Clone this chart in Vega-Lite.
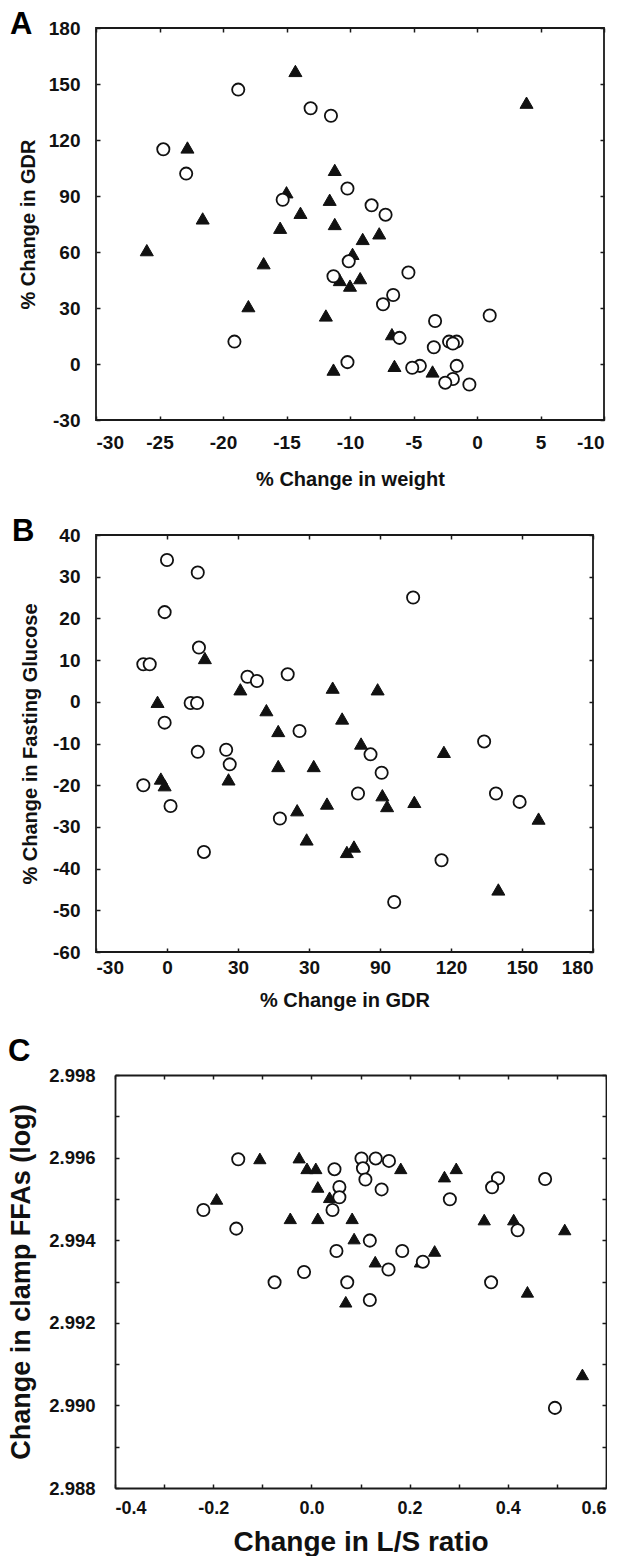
{
  "$schema": "https://vega.github.io/schema/vega-lite/v6.json",
  "background": "white",
  "padding": {"left": 7, "top": 8, "right": 0, "bottom": 0},
  "spacing": 25,
  "columns": 1,
  "align": "none",
  "config": {
    "font": "Liberation Sans",
    "view": {"stroke": "#1a1a1a", "strokeWidth": 1.8},
    "axis": {"domain": false, "grid": false, "tickColor": "#1a1a1a", "tickSize": -4, "tickWidth": 1.5, "labelFont": "Liberation Sans", "labelFontWeight": "bold", "labelColor": "#111", "titleColor": "#111", "titleFont": "Liberation Sans", "titleFontWeight": "bold"},
    "title": {"font": "Liberation Sans", "fontWeight": "bold", "color": "#000", "anchor": "start", "frame": "group"}
  },
  "datasets": {
    "a": [
      {"g":"T","x":-14.3,"y":157},{"g":"T","x":3.9,"y":140},{"g":"T","x":-22.8,"y":116},{"g":"T","x":-11.2,"y":104},{"g":"T","x":-15.0,"y":92},{"g":"T","x":-11.6,"y":88},{"g":"T","x":-21.6,"y":78},{"g":"T","x":-13.9,"y":81},{"g":"T","x":-15.5,"y":73},{"g":"T","x":-11.2,"y":75},{"g":"T","x":-7.7,"y":70},{"g":"T","x":-9.0,"y":67},{"g":"T","x":-26.0,"y":61},{"g":"T","x":-16.8,"y":54},{"g":"T","x":-9.8,"y":59},{"g":"T","x":-9.2,"y":46},{"g":"T","x":-10.0,"y":42},{"g":"T","x":-10.8,"y":45},{"g":"T","x":-18.0,"y":31},{"g":"T","x":-11.9,"y":26},{"g":"T","x":-6.7,"y":16},{"g":"T","x":-11.3,"y":-3},{"g":"T","x":-6.5,"y":-1},{"g":"T","x":-3.5,"y":-4},
      {"g":"O","x":-18.8,"y":147},{"g":"O","x":-13.1,"y":137},{"g":"O","x":-11.5,"y":133},{"g":"O","x":-24.7,"y":115},{"g":"O","x":-22.9,"y":102},{"g":"O","x":-10.2,"y":94},{"g":"O","x":-15.3,"y":88},{"g":"O","x":-8.3,"y":85},{"g":"O","x":-7.2,"y":80},{"g":"O","x":-10.1,"y":55},{"g":"O","x":-11.3,"y":47},{"g":"O","x":-5.4,"y":49},{"g":"O","x":-6.6,"y":37},{"g":"O","x":-7.4,"y":32},{"g":"O","x":-3.3,"y":23},{"g":"O","x":1.0,"y":26},{"g":"O","x":-19.1,"y":12},{"g":"O","x":-6.1,"y":14},{"g":"O","x":-3.4,"y":9},{"g":"O","x":-2.2,"y":12},{"g":"O","x":-1.6,"y":12},{"g":"O","x":-1.9,"y":11},{"g":"O","x":-10.2,"y":1},{"g":"O","x":-4.5,"y":-1},{"g":"O","x":-5.1,"y":-2},{"g":"O","x":-1.6,"y":-1},{"g":"O","x":-1.9,"y":-8},{"g":"O","x":-2.5,"y":-10},{"g":"O","x":-0.6,"y":-11}
    ],
    "b": [
      {"g":"T","x":16,"y":10.5},{"g":"T","x":-4,"y":0},{"g":"T","x":31,"y":3},{"g":"T","x":70,"y":3.4},{"g":"T","x":89,"y":3},{"g":"T","x":42,"y":-2},{"g":"T","x":74,"y":-4},{"g":"T","x":47,"y":-7},{"g":"T","x":82,"y":-10},{"g":"T","x":117,"y":-12},{"g":"T","x":47,"y":-15.4},{"g":"T","x":62,"y":-15.4},{"g":"T","x":26,"y":-18.6},{"g":"T","x":-2.6,"y":-18.4},{"g":"T","x":-1,"y":-20},{"g":"T","x":91,"y":-22.4},{"g":"T","x":93,"y":-25},{"g":"T","x":104.5,"y":-24},{"g":"T","x":67.6,"y":-24.4},{"g":"T","x":55,"y":-26},{"g":"T","x":157,"y":-28},{"g":"T","x":59,"y":-33},{"g":"T","x":79,"y":-34.7},{"g":"T","x":76,"y":-36},{"g":"T","x":140,"y":-45},
      {"g":"O","x":0,"y":34},{"g":"O","x":13,"y":31},{"g":"O","x":104,"y":25},{"g":"O","x":-1,"y":21.5},{"g":"O","x":13.5,"y":13},{"g":"O","x":-10,"y":9},{"g":"O","x":-7.3,"y":9},{"g":"O","x":34,"y":6},{"g":"O","x":38,"y":5},{"g":"O","x":51,"y":6.6},{"g":"O","x":10,"y":-0.3},{"g":"O","x":12.7,"y":-0.3},{"g":"O","x":-1,"y":-5},{"g":"O","x":56,"y":-7},{"g":"O","x":134,"y":-9.5},{"g":"O","x":13,"y":-12},{"g":"O","x":25,"y":-11.5},{"g":"O","x":86,"y":-12.6},{"g":"O","x":26.5,"y":-15},{"g":"O","x":90.7,"y":-17},{"g":"O","x":-10,"y":-20},{"g":"O","x":80.7,"y":-22},{"g":"O","x":139,"y":-22},{"g":"O","x":149,"y":-24},{"g":"O","x":1.5,"y":-25},{"g":"O","x":47.7,"y":-28},{"g":"O","x":15.6,"y":-36},{"g":"O","x":116,"y":-38},{"g":"O","x":96,"y":-48}
    ],
    "c": [
      {"g":"T","x":-0.105,"y":2.99598},{"g":"T","x":-0.025,"y":2.996},{"g":"T","x":-0.009,"y":2.99574},{"g":"T","x":0.009,"y":2.99574},{"g":"T","x":0.013,"y":2.99529},{"g":"T","x":0.037,"y":2.99504},{"g":"T","x":-0.193,"y":2.995},{"g":"T","x":0.182,"y":2.99574},{"g":"T","x":0.271,"y":2.99554},{"g":"T","x":0.295,"y":2.99574},{"g":"T","x":-0.043,"y":2.99453},{"g":"T","x":0.013,"y":2.99453},{"g":"T","x":0.083,"y":2.99453},{"g":"T","x":0.352,"y":2.9945},{"g":"T","x":0.412,"y":2.9945},{"g":"T","x":0.516,"y":2.99426},{"g":"T","x":0.087,"y":2.99404},{"g":"T","x":0.130,"y":2.99348},{"g":"T","x":0.251,"y":2.99374},{"g":"T","x":0.222,"y":2.99348},{"g":"T","x":0.440,"y":2.99275},{"g":"T","x":0.070,"y":2.99251},{"g":"T","x":0.552,"y":2.99075},
      {"g":"O","x":-0.149,"y":2.99596},{"g":"O","x":-0.220,"y":2.99473},{"g":"O","x":-0.153,"y":2.99428},{"g":"O","x":0.047,"y":2.99572},{"g":"O","x":0.057,"y":2.99529},{"g":"O","x":0.057,"y":2.99504},{"g":"O","x":0.043,"y":2.99473},{"g":"O","x":0.102,"y":2.99598},{"g":"O","x":0.105,"y":2.99574},{"g":"O","x":0.131,"y":2.99598},{"g":"O","x":0.110,"y":2.99547},{"g":"O","x":0.158,"y":2.99592},{"g":"O","x":0.143,"y":2.99523},{"g":"O","x":0.282,"y":2.99499},{"g":"O","x":0.380,"y":2.9955},{"g":"O","x":0.368,"y":2.99528},{"g":"O","x":0.476,"y":2.99548},{"g":"O","x":0.420,"y":2.99424},{"g":"O","x":0.119,"y":2.99399},{"g":"O","x":0.051,"y":2.99374},{"g":"O","x":0.185,"y":2.99374},{"g":"O","x":0.227,"y":2.99348},{"g":"O","x":0.157,"y":2.99329},{"g":"O","x":-0.015,"y":2.99323},{"g":"O","x":-0.075,"y":2.99298},{"g":"O","x":0.073,"y":2.99298},{"g":"O","x":0.366,"y":2.99298},{"g":"O","x":0.119,"y":2.99255},{"g":"O","x":0.496,"y":2.98994}
    ]
  },
  "concat": [
    {
      "width": 508, "height": 392,
      "title": {"text": "A", "fontSize": 31, "dx": -86, "dy": 26},
      "data": {"name": "a"},
      "layer": [
        {
          "encoding": {
            "x": {"field": "x", "type": "quantitative", "scale": {"domain": [-30, 10], "nice": false, "zero": false}, "title": "% Change in weight",
              "axis": {"orient": "bottom", "values": [-30,-25,-20,-15,-10,-5,0,5,10], "labelExpr": "datum.value == 10 ? '-10' : replace(datum.label, '−', '-')", "labelFontSize": 19, "labelPadding": 17, "titleFontSize": 20, "titlePadding": 17}},
            "y": {"field": "y", "type": "quantitative", "scale": {"domain": [-30, 180], "nice": false, "zero": false}, "title": "% Change in GDR",
              "axis": {"orient": "left", "values": [-30,0,30,60,90,120,150,180], "labelExpr": "replace(datum.label, '−', '-')", "labelFontSize": 19, "labelPadding": 20, "titleFontSize": 20, "titlePadding": 10}}
          },
          "layer": [
            {"transform": [{"filter": "datum.g == 'T'"}], "mark": {"type": "point", "shape": "triangle-up", "filled": true, "fill": "#111", "stroke": "#111", "strokeWidth": 1, "size": 170, "opacity": 1}},
            {"transform": [{"filter": "datum.g == 'O'"}], "mark": {"type": "point", "shape": "circle", "filled": true, "fill": "#fff", "stroke": "#111", "strokeWidth": 1.8, "size": 150, "opacity": 1}}
          ]
        },
        {"mark": {"type": "point", "opacity": 0},
         "encoding": {
           "x": {"field": "x", "type": "quantitative", "axis": {"orient": "top", "labels": false, "title": null, "values": [-30,-25,-20,-15,-10,-5,0,5,10]}},
           "y": {"field": "y", "type": "quantitative", "axis": {"orient": "right", "labels": false, "title": null, "values": [-30,0,30,60,90,120,150,180]}}
         }}
      ],
      "resolve": {"axis": {"x": "independent", "y": "independent"}}
    },
    {
      "width": 497, "height": 417,
      "title": {"text": "B", "fontSize": 31, "dx": -84, "dy": 26},
      "data": {"name": "b"},
      "layer": [
        {
          "encoding": {
            "x": {"field": "x", "type": "quantitative", "scale": {"domain": [-30, 180], "nice": false, "zero": false}, "title": "% Change in GDR",
              "axis": {"orient": "bottom", "values": [-30,0,30,60,90,120,150,180], "labelExpr": "datum.value == 60 ? '30' : replace(datum.label, '−', '-')", "labelFontSize": 19, "labelPadding": 10, "titleFontSize": 20, "titlePadding": 13}},
            "y": {"field": "y", "type": "quantitative", "scale": {"domain": [-60, 40], "nice": false, "zero": false}, "title": "% Change in Fasting Glucose",
              "axis": {"orient": "left", "values": [-60,-50,-40,-30,-20,-10,0,10,20,30,40], "labelExpr": "replace(datum.label, '−', '-')", "labelFontSize": 19, "labelPadding": 20, "titleFontSize": 20, "titlePadding": 12}}
          },
          "layer": [
            {"transform": [{"filter": "datum.g == 'T'"}], "mark": {"type": "point", "shape": "triangle-up", "filled": true, "fill": "#111", "stroke": "#111", "strokeWidth": 1, "size": 170, "opacity": 1}},
            {"transform": [{"filter": "datum.g == 'O'"}], "mark": {"type": "point", "shape": "circle", "filled": true, "fill": "#fff", "stroke": "#111", "strokeWidth": 1.8, "size": 150, "opacity": 1}}
          ]
        },
        {"mark": {"type": "point", "opacity": 0},
         "encoding": {
           "x": {"field": "x", "type": "quantitative", "axis": {"orient": "top", "labels": false, "title": null, "values": [-30,0,30,60,90,120,150,180]}},
           "y": {"field": "y", "type": "quantitative", "axis": {"orient": "right", "labels": false, "title": null, "values": [-60,-50,-40,-30,-20,-10,0,10,20,30,40]}}
         }}
      ],
      "resolve": {"axis": {"x": "independent", "y": "independent"}}
    },
    {
      "width": 510, "height": 413,
      "view": {"stroke": null},
      "title": {"text": "C", "fontSize": 31, "dx": -88, "dy": 6},
      "data": {"name": "c"},
      "layer": [
        {
          "encoding": {
            "x": {"field": "x", "type": "quantitative", "scale": {"domain": [-0.4, 0.6], "range": [19, 510], "nice": false, "zero": false}, "title": "Change in L/S ratio",
              "axis": {"orient": "bottom", "domain": true, "domainColor": "#1a1a1a", "domainWidth": 1.8, "values": [-0.4,-0.3,-0.2,-0.1,0,0.1,0.2,0.3,0.4,0.5,0.6], "labelExpr": "abs(round(datum.value * 10)) % 2 == 0 ? replace(format(datum.value, '.1f'), '−', '-') : ''", "labelFontSize": 18, "labelPadding": 15, "titleFontSize": 28, "titlePadding": 11}},
            "y": {"field": "y", "type": "quantitative", "scale": {"domain": [2.988, 2.998], "nice": false, "zero": false}, "title": "Change in clamp FFAs (log)",
              "axis": {"orient": "left", "offset": -19, "domain": true, "domainColor": "#1a1a1a", "domainWidth": 1.8, "values": [2.988,2.989,2.99,2.991,2.992,2.993,2.994,2.995,2.996,2.997,2.998], "labelExpr": "round(datum.value * 1000) % 2 == 0 ? format(datum.value, '.3f') : ''", "labelFontSize": 18.5, "labelPadding": 24, "titleFontSize": 27, "titlePadding": 13}}
          },
          "layer": [
            {"transform": [{"filter": "datum.g == 'T'"}], "mark": {"type": "point", "shape": "triangle-up", "filled": true, "fill": "#111", "stroke": "#111", "strokeWidth": 1, "size": 150, "opacity": 1}},
            {"transform": [{"filter": "datum.g == 'O'"}], "mark": {"type": "point", "shape": "circle", "filled": true, "fill": "#fff", "stroke": "#111", "strokeWidth": 1.8, "size": 150, "opacity": 1}}
          ]
        },
        {"mark": {"type": "point", "opacity": 0},
         "encoding": {
           "x": {"field": "x", "type": "quantitative", "axis": {"orient": "top", "domain": true, "domainColor": "#1a1a1a", "domainWidth": 1.8, "labels": false, "title": null, "values": [-0.4,-0.3,-0.2,-0.1,0,0.1,0.2,0.3,0.4,0.5,0.6]}},
           "y": {"field": "y", "type": "quantitative", "axis": {"orient": "right", "domain": true, "domainColor": "#1a1a1a", "domainWidth": 1.8, "labels": false, "title": null, "values": [2.988,2.989,2.99,2.991,2.992,2.993,2.994,2.995,2.996,2.997,2.998]}}
         }}
      ],
      "resolve": {"axis": {"x": "independent", "y": "independent"}}
    }
  ]
}
